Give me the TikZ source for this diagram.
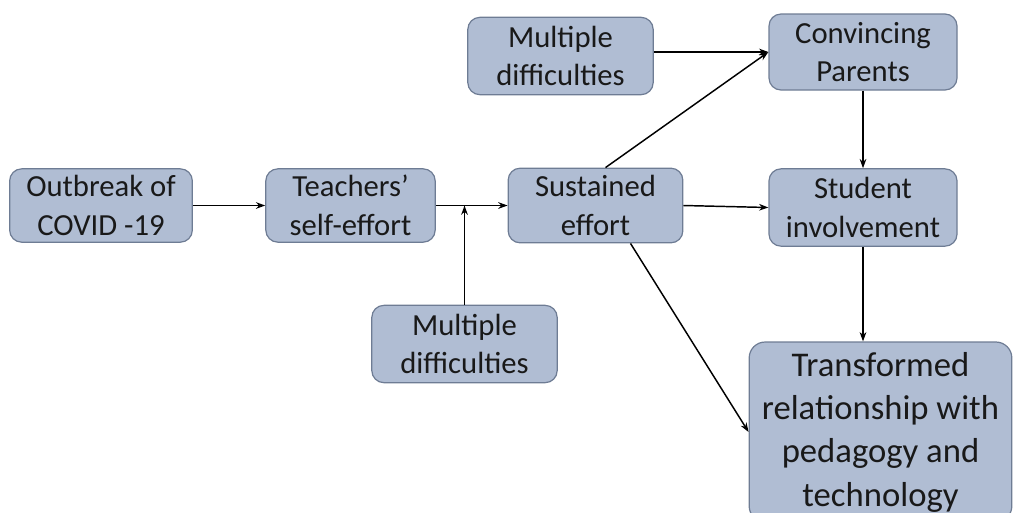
\documentclass[tikz,border=0pt]{standalone}
\usepackage{fontspec}
\setmainfont{Carlito}
\usetikzlibrary{arrows.meta,positioning,calc}
\definecolor{boxfill}{RGB}{176,189,211}
\definecolor{boxline}{RGB}{110,124,148}
\tikzset{
  box/.style={draw=boxline, line width=0.9pt, fill=boxfill, rounded corners=9pt,
    align=center, inner sep=0pt, text=black!90,
    font=\fontsize{23}{29}\selectfont},
  arrow/.style={-{Stealth[length=7pt,width=5pt]}, line width=1.1pt},
}

\begin{document}
\begin{tikzpicture}[x=0.75pt, y=-0.75pt]
\useasboundingbox (0,0) rectangle (1013,512);
\clip (0,0) rectangle (1013,512);

% Main row
\node[box, minimum width=137pt, minimum height=55pt] (outbreak) at (101,205.5) {Outbreak of\\COVID -19};
\node[box, minimum width=127pt, minimum height=55pt] (teachers) at (350.5,205.5) {Teachers’\\self-effort};
\node[box, minimum width=131pt, minimum height=56pt] (sustained) at (595.5,205.5) {Sustained\\effort};
\node[box, minimum width=141pt, minimum height=58pt] (student) at (863,207.5) {Student\\involvement};

% Difficulties
\node[box, minimum width=139pt, minimum height=58pt] (diffbot) at (464.5,344) {Multiple\\difficulties};
\node[box, minimum width=139pt, minimum height=58pt] (difftop) at (560.5,56) {Multiple\\difficulties};

% Right column
\node[box, minimum width=141pt, minimum height=57pt] (parents) at (863,52) {Convincing\\Parents};
\node[box, minimum width=197pt, minimum height=135pt, rounded corners=12pt,
  font=\fontsize{26}{32.5}\selectfont] (transformed) at (880.5,432)
  {Transformed\\relationship with\\pedagogy and\\technology};

% Connectors
\coordinate (join) at (diffbot.north |- teachers.east);
\draw[arrow] (outbreak.east) -- (teachers.west);
\draw[arrow] (teachers.east) -- (sustained.west);
\draw[arrow] (diffbot.north) -- (join);
\draw[arrow] (difftop.east |- parents.west) -- (parents.west);
\draw[arrow] ($(sustained.north)+(10,0)$) -- (parents.west);
\draw[arrow] (sustained.east) -- (student.west);
\draw[arrow] (parents.south) -- (student.north);
\draw[arrow] ($(sustained.south)+(35,0)$) -- (transformed.west);
\draw[arrow] (student.south) -- (student.south |- transformed.north);

\end{tikzpicture}
\end{document}
